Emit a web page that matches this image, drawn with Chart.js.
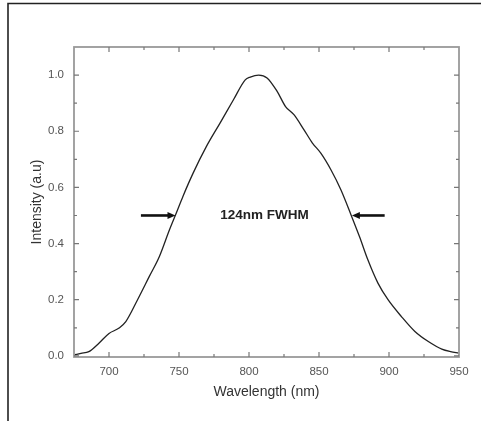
<!DOCTYPE html>
<html>
<head>
<meta charset="utf-8">
<script src="https://cdn.jsdelivr.net/npm/chart.js@4/dist/chart.umd.min.js"></script>
<style>
html,body{margin:0;padding:0;background:#fff;}
#wrap{position:relative;width:481px;height:421px;}
canvas{display:block;}
</style>
</head>
<body>
<div id="wrap"><canvas id="c" width="481" height="421"></canvas></div>
<script>
// Spectrum
const wavelength = [675.5, 680, 685.6, 692.8, 700, 707.2, 712, 720.4, 728.8, 736, 743.2, 748, 752.8, 760, 769.6, 779.3, 788.9, 797.3, 800.9, 806.9, 812.9, 820.1, 826.1, 832.1, 839.3, 845.3, 851.3, 858.5, 865.7, 872.9, 878.9, 884.9, 892.1, 899.3, 908.9, 918.5, 928.1, 937.7, 944, 949.8];
const intensity  = [0.004, 0.009, 0.015, 0.045, 0.08, 0.099, 0.122, 0.2, 0.283, 0.354, 0.449, 0.508, 0.568, 0.65, 0.746, 0.829, 0.912, 0.983, 0.993, 1.0, 0.99, 0.942, 0.888, 0.859, 0.805, 0.758, 0.722, 0.663, 0.591, 0.502, 0.425, 0.342, 0.259, 0.2, 0.14, 0.087, 0.051, 0.024, 0.015, 0.01];
const xTicks = [700, 750, 800, 850, 900, 950];
const yTicks = [0.0, 0.2, 0.4, 0.6, 0.8, 1.0];
const xMinorStep = 25;
const yMinorStep = 0.1;
const leftArrow = [[722.8, 0.5], [747.5, 0.5]];
const rightArrow = [[896.9, 0.5], [873.5, 0.5]];
const annotationText = "124nm FWHM";
const annotationPos = [811, 0.5];
const xTitle = "Wavelength (nm)";
const yTitle = "Intensity (a.u)";

const framePlugin = {
  id: 'frame',
  beforeDraw(chart) {
    const ctx = chart.ctx;
    ctx.save();
    ctx.fillStyle = '#fff';
    ctx.fillRect(0, 0, chart.width, chart.height);
    // outer page frame (top and left only)
    ctx.strokeStyle = '#222';
    ctx.lineWidth = 1.6;
    ctx.beginPath();
    ctx.moveTo(8, 421);
    ctx.lineTo(8, 3.5);
    ctx.lineTo(481, 3.5);
    ctx.stroke();
    ctx.restore();
  },
  afterDraw(chart) {
    const ctx = chart.ctx;
    const a = chart.chartArea;
    const xs = chart.scales.x, ys = chart.scales.y;
    ctx.save();
    ctx.strokeStyle = '#999';
    ctx.lineWidth = 1.8;
    ctx.strokeRect(a.left, a.top, a.right - a.left, a.bottom - a.top);
    ctx.strokeStyle = '#777';
    ctx.lineWidth = 1.2;
    ctx.beginPath();
    for (let v = 675; v <= 950 + 1e-6; v += xMinorStep) {
      const px = xs.getPixelForValue(v);
      const major = xTicks.includes(v);
      const len = major ? 5 : 3;
      if (px <= a.left + 1 || px >= a.right - 1) continue;
      ctx.moveTo(px, a.bottom); ctx.lineTo(px, a.bottom - len);
      ctx.moveTo(px, a.top); ctx.lineTo(px, a.top + len);
    }
    for (let i = 0; i <= 10; i++) {
      const v = i * yMinorStep;
      const py = ys.getPixelForValue(v);
      const len = (i % 2 === 0) ? 5 : 3;
      if (py >= a.bottom - 1) continue;
      ctx.moveTo(a.left, py); ctx.lineTo(a.left + len, py);
      ctx.moveTo(a.right, py); ctx.lineTo(a.right - len, py);
    }
    ctx.stroke();
    // arrows
    ctx.strokeStyle = '#111';
    ctx.fillStyle = '#111';
    ctx.lineWidth = 2.6;
    [leftArrow, rightArrow].forEach(arr => {
      const x0 = xs.getPixelForValue(arr[0][0]), y0 = ys.getPixelForValue(arr[0][1]);
      const x1 = xs.getPixelForValue(arr[1][0]), y1 = ys.getPixelForValue(arr[1][1]);
      const dir = Math.sign(x1 - x0);
      ctx.beginPath();
      ctx.moveTo(x0, y0); ctx.lineTo(x1 - dir * 6, y1);
      ctx.stroke();
      ctx.beginPath();
      ctx.moveTo(x1, y1);
      ctx.lineTo(x1 - dir * 8, y1 - 3.5);
      ctx.lineTo(x1 - dir * 8, y1 + 3.5);
      ctx.closePath();
      ctx.fill();
    });
    ctx.font = 'bold 13.5px "Liberation Sans", Arial, sans-serif';
    ctx.fillStyle = '#222';
    ctx.textAlign = 'center';
    ctx.textBaseline = 'middle';
    ctx.fillText(annotationText, xs.getPixelForValue(annotationPos[0]), ys.getPixelForValue(annotationPos[1]));
    ctx.restore();
  }
};

new Chart(document.getElementById('c'), {
  type: 'scatter',
  data: {
    datasets: [{
      data: wavelength.map((w, i) => ({x: w, y: intensity[i]})),
      showLine: true,
      borderColor: '#222',
      borderWidth: 1.3,
      pointRadius: 0,
      tension: 0.4,
      cubicInterpolationMode: 'monotone'
    }]
  },
  options: {
    responsive: false,
    animation: false,
    devicePixelRatio: 1,
    layout: {padding: {left: 0, top: 47, right: 22, bottom: 0}},
    plugins: {legend: {display: false}, tooltip: {enabled: false}},
    scales: {
      x: {
        type: 'linear', min: 675, max: 950,
        afterBuildTicks: s => { s.ticks = xTicks.map(v => ({value: v})); },
        afterFit: s => { s.height = 64; },
        grid: {display: false, drawTicks: false},
        border: {display: false},
        ticks: {color: '#555', font: {family: '"Liberation Sans", Arial, sans-serif', size: 11.5}, padding: 8, maxRotation: 0},
        title: {display: true, text: xTitle, color: '#333', font: {family: '"Liberation Sans", Arial, sans-serif', size: 14}, padding: {top: 4, bottom: 20}}
      },
      y: {
        type: 'linear', min: -0.004, max: 1.1,
        afterBuildTicks: s => { s.ticks = yTicks.map(v => ({value: v})); },
        afterFit: s => { s.width = 74; },
        grid: {display: false, drawTicks: false},
        border: {display: false},
        ticks: {color: '#555', font: {family: '"Liberation Sans", Arial, sans-serif', size: 11.5}, padding: 10, callback: v => v.toFixed(1)},
        title: {display: true, text: yTitle, color: '#333', font: {family: '"Liberation Sans", Arial, sans-serif', size: 14}, padding: {top: 29, bottom: 0}}
      }
    }
  },
  plugins: [framePlugin]
});
</script>
</body>
</html>
